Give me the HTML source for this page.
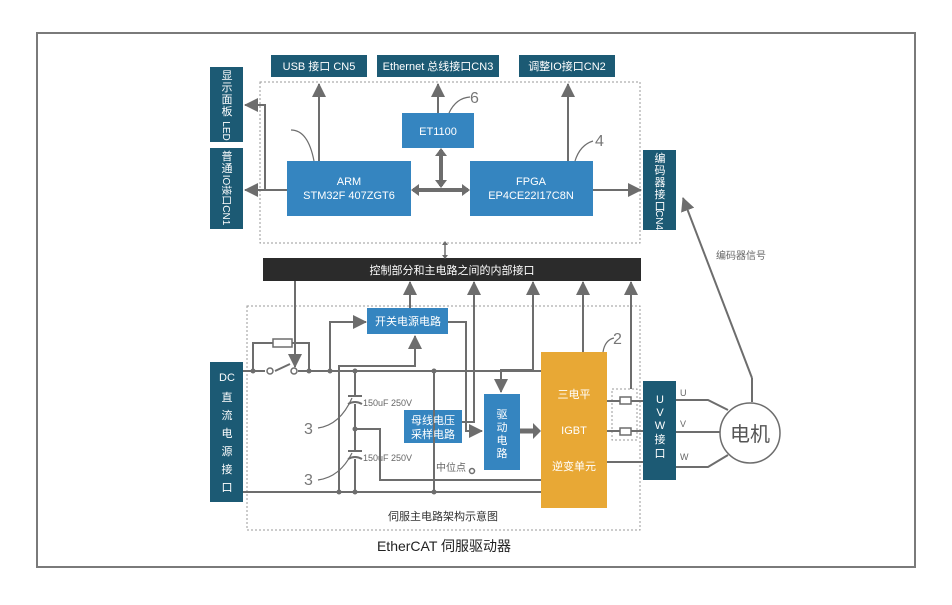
<!DOCTYPE html>
<html><head><meta charset="utf-8"><style>
body{margin:0;background:#fff}
text{font-family:"Liberation Sans","Noto Sans CJK SC",sans-serif}
</style></head><body>
<svg width="952" height="600" viewBox="0 0 952 600" xmlns="http://www.w3.org/2000/svg">
<defs>
<marker id="b" markerWidth="14" markerHeight="14" refX="13" refY="7" orient="auto-start-reverse" markerUnits="userSpaceOnUse"><path d="M0,0 L14,7 L0,14z" fill="#6d6d6d"/></marker>
</defs>
<rect x="37" y="33" width="878" height="534" fill="none" stroke="#7a7a7a" stroke-width="2"/>
<rect x="260" y="82" width="380" height="161" fill="none" stroke="#999" stroke-dasharray="2,2"/>
<rect x="247" y="306" width="393" height="224" fill="none" stroke="#999" stroke-dasharray="2,2"/>
<rect x="612" y="389" width="25" height="51" fill="none" stroke="#999" stroke-dasharray="2,2"/>

<g fill="#1c5a74">
<rect x="271" y="55" width="96" height="22"/><rect x="377" y="55" width="122" height="22"/><rect x="519" y="55" width="96" height="22"/>
<rect x="210" y="67" width="33" height="75"/><rect x="210" y="148" width="33" height="81"/>
<rect x="643" y="150" width="33" height="80"/><rect x="210" y="362" width="33" height="140"/>
<rect x="643" y="381" width="33" height="99"/>
</g>
<g fill="#3585c0">
<rect x="402" y="113" width="72" height="35"/><rect x="287" y="161" width="124" height="55"/><rect x="470" y="161" width="123" height="55"/>
<rect x="367" y="308" width="81" height="26"/><rect x="404" y="410" width="58" height="33"/><rect x="484" y="394" width="36" height="76"/>
</g>
<rect x="263" y="258" width="378" height="23" fill="#2b2b2b"/>
<rect x="541" y="352" width="66" height="156" fill="#e8a835"/>

<g stroke="#6d6d6d" stroke-width="2" fill="none">
<path d="M319,161V84" marker-end="url(#b)"/>
<path d="M438,113V84" marker-end="url(#b)"/>
<path d="M568,161V84" marker-end="url(#b)"/>
<path d="M287,190H245" marker-end="url(#b)"/>
<path d="M265,190V105H245" marker-end="url(#b)"/>
<path d="M593,190H641" marker-end="url(#b)"/>
<path d="M295,281V367" marker-end="url(#b)"/>
<path d="M410,308V282" marker-end="url(#b)"/>
<path d="M462,422H474V282" marker-end="url(#b)"/>
<path d="M533,370V282" marker-end="url(#b)"/>
<path d="M533,370H501V392" marker-end="url(#b)"/>
<path d="M583,352V282" marker-end="url(#b)"/>
<path d="M631,389V282" marker-end="url(#b)"/>
<path d="M330,371V322H366" marker-end="url(#b)"/>
<path d="M339,492V366H415V336" marker-end="url(#b)"/>
<path d="M448,322H466V431H482" marker-end="url(#b)"/>
<path d="M752,378L683,198" marker-end="url(#b)"/>
</g>
<g stroke="#6d6d6d" stroke-width="2" fill="none">
<path d="M243,371H265M275,371L290,364M298,371H541"/>
<path d="M243,492H541"/>
<path d="M253,371V343H273M292,343H309V371"/>
<path d="M355,371V396M355,404V451M355,459V492"/>
<path d="M348,396H362M348,404Q355,400 362,404M348,451H362M348,459Q355,455 362,459"/>
<path d="M355,429H380V480H541"/>
<path d="M434,371V492"/>
<path d="M607,401H620M631,401H643M607,431H620M631,431H643M607,462H643"/>
<path d="M676,400H708L728,410M676,432H720M676,467H708L728,455"/>
<path d="M752,402V378"/>
<path d="M441,150V186M413,190H468" stroke-width="4"/>
<path d="M445,243V257" stroke-width="1.5"/>
<path d="M520,431H535" stroke-width="5"/>
</g>
<g fill="#6d6d6d">
<path d="M441,148l-6,8h12z M441,188l-6,-8h12z M411,190l8,-6v12z M470,190l-8,-6v12z"/>
<path d="M445,241l-3,4h6z M445,259l-3,-4h6z"/>
<path d="M541,431l-8,-8v16z"/>
<circle cx="253" cy="371" r="2.5"/><circle cx="309" cy="371" r="2.5"/><circle cx="330" cy="371" r="2.5"/><circle cx="355" cy="371" r="2.5"/><circle cx="434" cy="371" r="2.5"/><circle cx="355" cy="429" r="2.5"/><circle cx="339" cy="492" r="2.5"/><circle cx="355" cy="492" r="2.5"/><circle cx="434" cy="492" r="2.5"/>
</g>
<g fill="#fff" stroke="#6d6d6d" stroke-width="1.5">
<circle cx="270" cy="371" r="3"/><circle cx="294" cy="371" r="3"/><circle cx="472" cy="471" r="2.5"/>
<rect x="273" y="339" width="19" height="8"/><rect x="620" y="397" width="11" height="7"/><rect x="620" y="428" width="11" height="7"/>
<circle cx="750" cy="433" r="30"/>
</g>
<g stroke="#6d6d6d" stroke-width="1.2" fill="none">
<path d="M449,113Q456,98 470,97"/><path d="M575,161Q580,145 593,141"/><path d="M603,352Q605,340 614,338"/>
<path d="M291,130Q308,130 314,161"/>
<path d="M318,428Q340,425 352,398"/><path d="M318,480Q340,477 352,453"/>
</g>
<g fill="#fff" font-size="11" text-anchor="middle">
<text x="319" y="70">USB 接口 CN5</text><text x="438" y="70">Ethernet 总线接口CN3</text><text x="567" y="70">调整IO接口CN2</text>
<text x="438" y="135">ET1100</text>
<text x="349" y="185">ARM</text><text x="349" y="199">STM32F 407ZGT6</text>
<text x="531" y="185">FPGA</text><text x="531" y="199">EP4CE22I17C8N</text>
<text x="452" y="274">控制部分和主电路之间的内部接口</text>
<text x="408" y="325">开关电源电路</text>
<text x="433" y="424">母线电压</text><text x="433" y="438">采样电路</text>
<text x="502" y="418">驱</text><text x="502" y="431">动</text><text x="502" y="444">电</text><text x="502" y="457">路</text>
<text x="574" y="398">三电平</text><text x="574" y="434">IGBT</text><text x="574" y="470">逆变单元</text>
<text x="227" y="381">DC</text><text x="227" y="401">直</text><text x="227" y="419">流</text><text x="227" y="437">电</text><text x="227" y="455">源</text><text x="227" y="473">接</text><text x="227" y="491">口</text>
<text x="660" y="403">U</text><text x="660" y="416">V</text><text x="660" y="429">W</text><text x="660" y="443">接</text><text x="660" y="457">口</text>
<text x="227" y="79">显</text><text x="227" y="91">示</text><text x="227" y="103">面</text><text x="227" y="115">板</text>
<text x="227" y="160">普</text><text x="227" y="172">通</text>
<text x="660" y="162">编</text><text x="660" y="174">码</text><text x="660" y="186">器</text><text x="660" y="198">接</text><text x="660" y="210">口</text>
</g>
<g fill="#fff" font-size="10" text-anchor="middle">
<text transform="translate(223,131) rotate(90)">LED</text>
<text transform="translate(223,200) rotate(90)">IO接口CN1</text>
<text transform="translate(656,220) rotate(90)">CN4</text>
</g>
<g fill="#666" font-size="9">
<text x="363" y="406">150uF  250V</text><text x="363" y="461">150uF  250V</text>
<text x="436" y="471" font-size="10">中位点</text>
<text x="716" y="259" font-size="10">编码器信号</text>
<text x="680" y="396">U</text><text x="680" y="427">V</text><text x="680" y="460">W</text>
</g>
<g fill="#777" font-size="16">
<text x="470" y="103">6</text><text x="595" y="146">4</text><text x="613" y="344">2</text><text x="304" y="434">3</text><text x="304" y="485">3</text>
</g>
<text x="750" y="441" font-size="20" fill="#555" text-anchor="middle">电机</text>
<text x="443" y="520" font-size="11" fill="#333" text-anchor="middle">伺服主电路架构示意图</text>
<text x="444" y="551" font-size="14" fill="#222" text-anchor="middle">EtherCAT 伺服驱动器</text>
</svg>
</body></html>
